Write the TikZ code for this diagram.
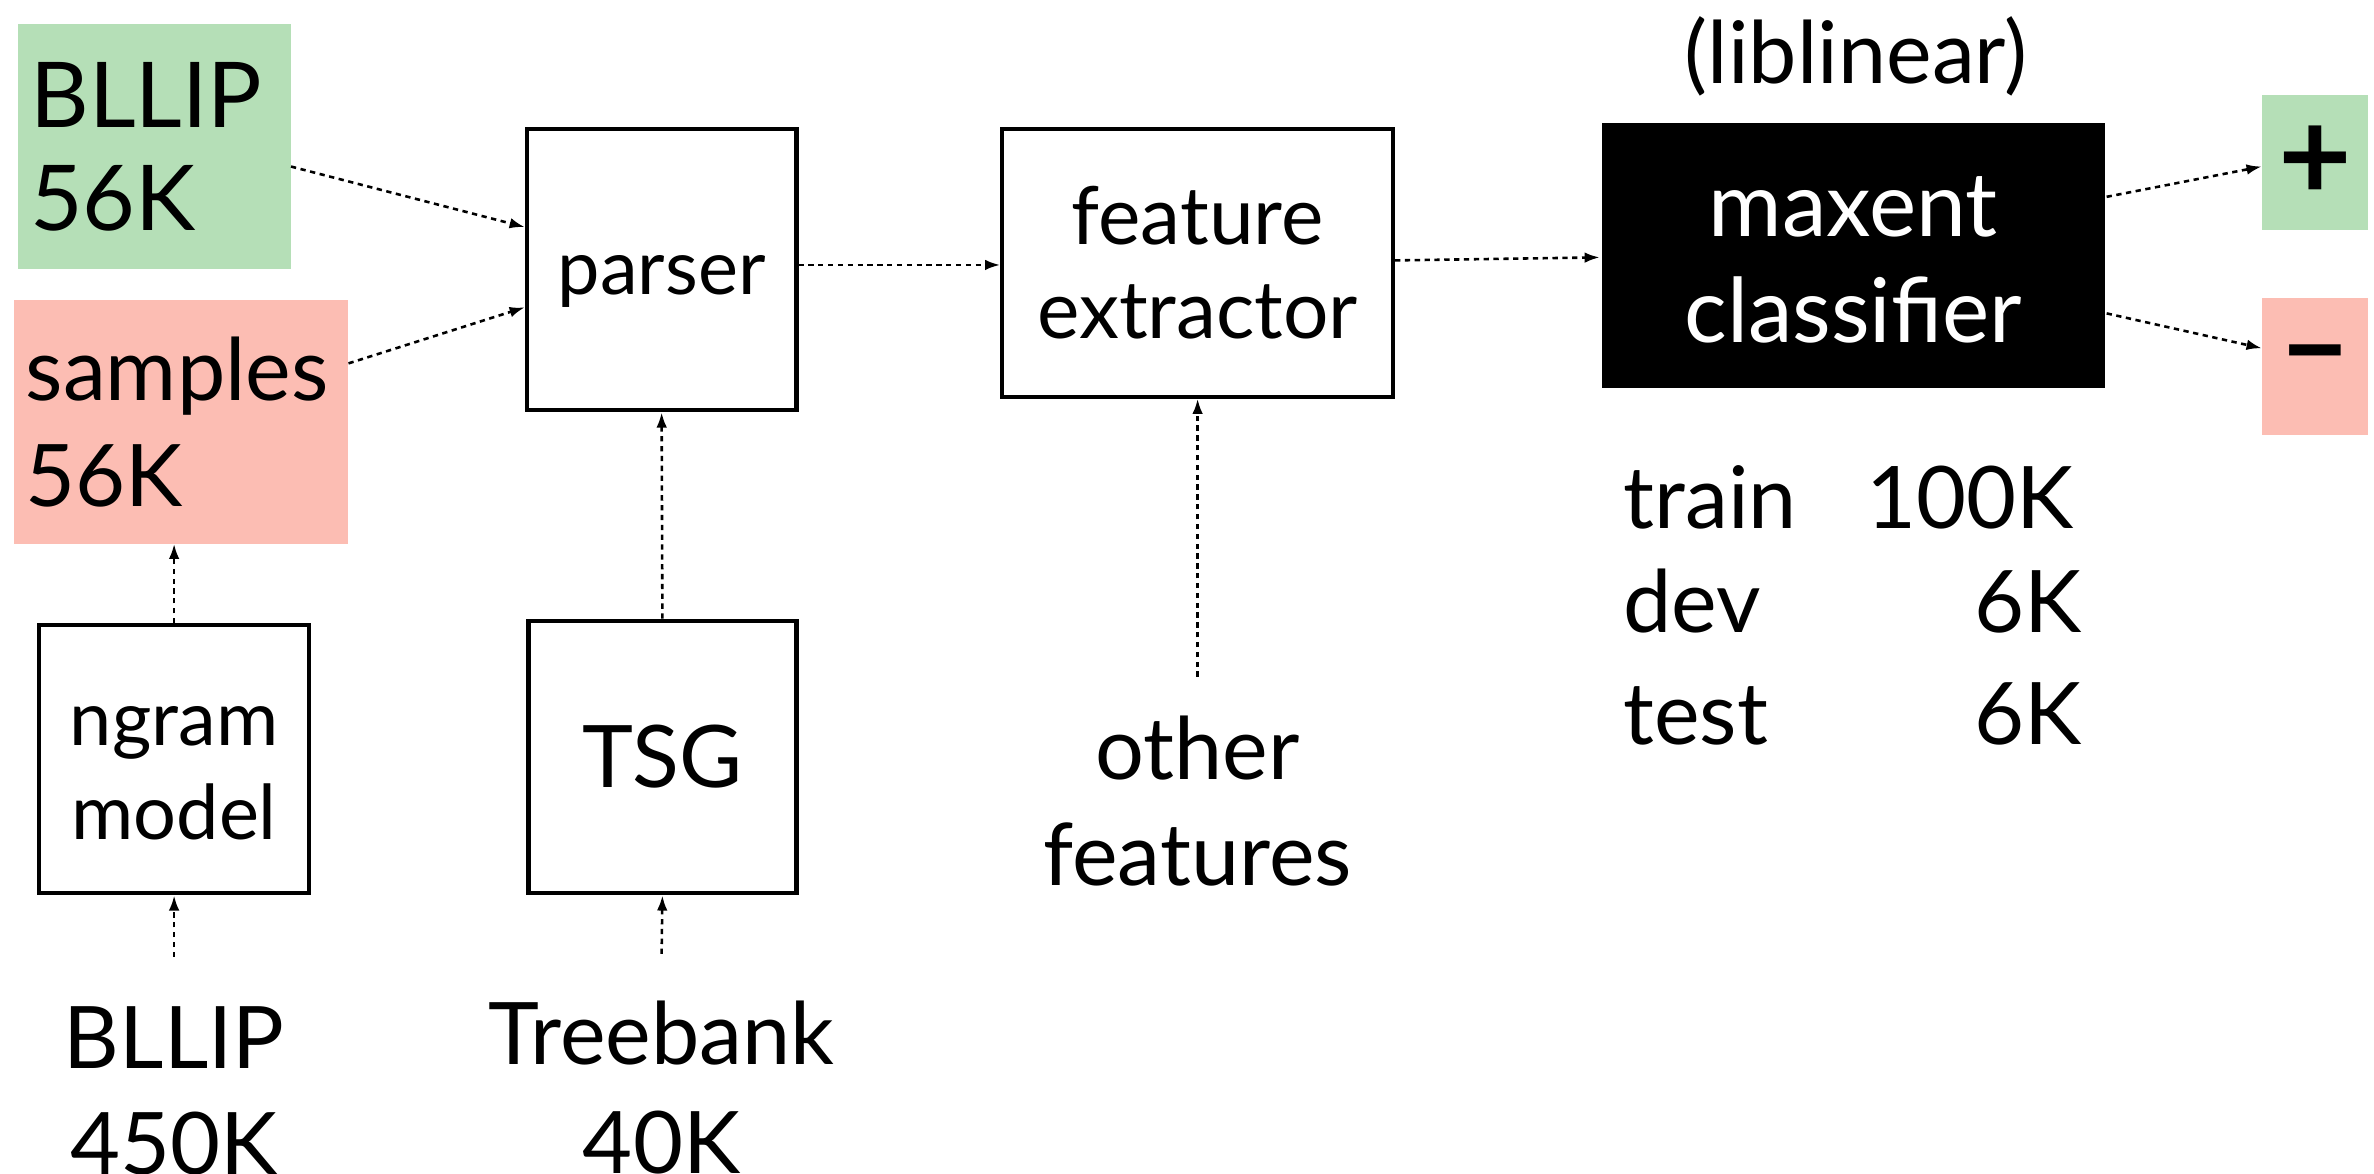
\documentclass[tikz,border=0pt]{standalone}
\usepackage{fontspec}
\setmainfont{Lato}
\usetikzlibrary{arrows.meta}
\definecolor{posgreen}{HTML}{B5DFB7}
\definecolor{negred}{HTML}{FCBDB3}
\tikzset{
  bigtxt/.style={font=\fontsize{57}{70}\selectfont},
  midtxt/.style={font=\fontsize{59}{70}\selectfont},
  feattxt/.style={font=\fontsize{53}{62}\selectfont},
  smalltxt/.style={font=\fontsize{50}{62}\selectfont},
  box/.style={draw=black, line width=2.8pt, fill=white, inner sep=0pt, align=center},
  colbox/.style={inner sep=8pt, align=left, anchor=center},
  conn/.style={line width=1.7pt, dash pattern=on 3.5pt off 3pt, -{Latex[length=10pt,width=7pt]}},
  plain/.style={inner sep=0pt, align=center}
}
\begin{document}
\begin{tikzpicture}[x=1pt,y=-1pt]
\useasboundingbox[fill=white] (0,0) rectangle (1568,775);

% coloured input boxes
\node[colbox, fill=posgreen, font=\fontsize{60}{68}\selectfont, minimum width=180pt, minimum height=162pt, text width=164pt] (bllip) at (102,97) {BLLIP\\56K};
\node[colbox, fill=negred, bigtxt, minimum width=221pt, minimum height=161pt, text width=205pt] (samples) at (119.5,278.5) {samples\\56K};

% processing boxes
\node[box, smalltxt, minimum width=178pt, minimum height=186pt] (parser) at (437,178) {\rule{0pt}{42pt}parser};
\node[box, feattxt, minimum width=258pt, minimum height=177pt] (feat) at (791,173.5) {feature\\extractor};
\node[box, fill=black, text=white, midtxt, draw=none, minimum width=332pt, minimum height=175pt] (maxent) at (1224,168.5) {\rule{0pt}{46pt}maxent\\classifier};
\node[box, smalltxt, minimum width=178pt, minimum height=177pt] (ngram) at (115,501.5) {\rule{0pt}{44pt}ngram\\model};
\node[box, bigtxt, minimum width=177pt, minimum height=180pt] (tsg) at (437.5,500) {TSG};

% outputs
\node[fill=posgreen, inner sep=0pt, minimum width=70pt, minimum height=89pt, font=\fontsize{84}{84}\selectfont\bfseries] (pos) at (1529,107.5) {+};
\node[fill=negred, inner sep=0pt, minimum width=70pt, minimum height=90pt, font=\fontsize{84}{84}\selectfont\bfseries] (neg) at (1529,242) {–};

% free labels
\node[plain, bigtxt, anchor=base] (liblinear) at (1226,55) {(liblinear)};
\node[plain, bigtxt, anchor=base] (bllipA) at (115,706) {BLLIP};
\node[plain, bigtxt, anchor=base] (bllipB) at (115,776) {450K};
\node[plain, bigtxt, anchor=base] (treeA) at (437,703) {Treebank};
\node[plain, bigtxt, anchor=base] (treeB) at (437,775) {40K};
\node[plain, bigtxt, anchor=base] (otherA) at (791,515) {other};
\node[plain, bigtxt, anchor=base] (otherB) at (791,585) {features};

% data table
\node[plain, bigtxt, anchor=base west] (trainL) at (1072,349) {train};
\node[plain, bigtxt, anchor=base west] (devL) at (1072,418) {dev};
\node[plain, bigtxt, anchor=base west] (testL) at (1072,492) {test};
\node[plain, bigtxt, anchor=base east] (trainN) at (1370,349) {100K};
\node[plain, bigtxt, anchor=base east] (devN) at (1375,418) {6K};
\node[plain, bigtxt, anchor=base east] (testN) at (1375,492) {6K};

% connectors
\draw[conn] (bllip.east |- 0,110) -- (parser.west |- 0,150);
\draw[conn] (samples.east |- 0,240) -- (parser.west |- 0,203);
\draw[conn] (parser.east |- 0,175) -- (feat.west |- 0,175);
\draw[conn] (feat.east |- 0,172) -- (maxent.west |- 0,170);
\draw[conn] (maxent.east |- 0,130) -- (pos.west |- 0,110);
\draw[conn] (maxent.east |- 0,207) -- (neg.west |- 0,230);
\draw[conn] (ngram.north) -- (ngram.north |- samples.south);
\draw[conn] (bllipA.north |- 0,632) -- (ngram.south);
\draw[conn] (treeA.north |- 0,630) -- (tsg.south);
\draw[conn] (tsg.north) -- (parser.south);
\draw[conn] (otherA.north |- 0,447) -- (feat.south);
\end{tikzpicture}
\end{document}
